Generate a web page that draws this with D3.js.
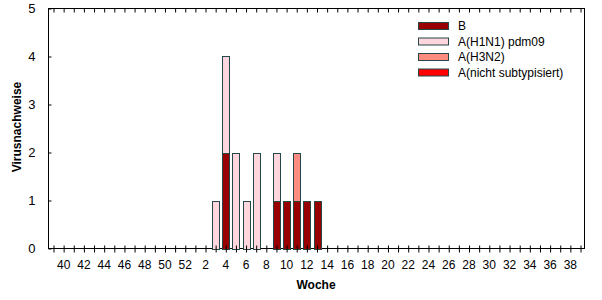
<!DOCTYPE html>
<html lang="de">
<head>
  <meta charset="UTF-8">
  <title>Virusnachweise</title>
  <script src="https://d3js.org/d3.v7.min.js"></script>
  <style>
    body { margin: 0; background: #fff; }
    text { font-family: "Liberation Sans", Arial, sans-serif; fill: #000; }
  </style>
</head>
<body>
<div class="main"></div>
<script>
  let width = 602;
  let height = 300;

  // Kalenderwochen der Saison (KW 39 bis KW 39)
  let weeks = [39, 40, 41, 42, 43, 44, 45, 46, 47, 48, 49, 50, 51, 52,
    1, 2, 3, 4, 5, 6, 7, 8, 9, 10, 11, 12, 13, 14, 15, 16, 17, 18, 19, 20,
    21, 22, 23, 24, 25, 26, 27, 28, 29, 30, 31, 32, 33, 34, 35, 36, 37, 38, 39];
  let weekLabels = [40, 42, 44, 46, 48, 50, 52, 2, 4, 6, 8, 10, 12, 14, 16, 18, 20,
    22, 24, 26, 28, 30, 32, 34, 36, 38];

  // Wochen mit Nachweisen
  let dataWeeks = [3, 4, 5, 6, 7, 8, 9, 10, 11, 12, 13];
  let valuesB     = [0, 2, 0, 0, 0, 0, 1, 1, 1, 1, 1];
  let valuesH1N1  = [1, 2, 2, 1, 2, 0, 1, 0, 0, 0, 0];
  let valuesH3N2  = [0, 0, 0, 0, 0, 0, 0, 0, 1, 0, 0];
  let valuesNicht = [0, 0, 0, 0, 0, 0, 0, 0, 0, 0, 0];

  let seriesNames = ["B", "A(H1N1) pdm09", "A(H3N2)", "A(nicht subtypisiert)"];
  let seriesColors = ["#990000", "#ffd6dd", "#ff8a80", "#ff0000"];
  let yTicks = [0, 1, 2, 3, 4, 5];

  let plotLeft = 48.5, plotRight = 584.5, plotTop = 8.5, plotBottom = 248.5;

  let svg = d3.select(".main")
    .append("svg")
    .attr("width", width)
    .attr("height", height);

  // second season weeks come after index 13
  let weekIdx = weeks.map((w, i) => i);
  let keyOf = w => weeks.indexOf(w, w >= 39 ? 0 : 14);

  let x = d3.scalePoint()
    .domain(weekIdx)
    .range([53.5, 580.5]);

  let y = d3.scaleLinear()
    .domain([0, 5])
    .range([plotBottom, plotTop]);

  let barW = 7;

  let table = dataWeeks.map((w, i) => ({
    week: w,
    "B": valuesB[i],
    "A(H1N1) pdm09": valuesH1N1[i],
    "A(H3N2)": valuesH3N2[i],
    "A(nicht subtypisiert)": valuesNicht[i]
  }));

  let stacked = d3.stack().keys(seriesNames)(table);

  // frame
  svg.append("rect")
    .attr("x", plotLeft).attr("y", plotTop)
    .attr("width", plotRight - plotLeft).attr("height", plotBottom - plotTop)
    .attr("fill", "none").attr("stroke", "#000").attr("stroke-width", 1);

  // bars
  let barG = svg.append("g");
  stacked.forEach((layer, li) => {
    barG.append("g")
      .selectAll("rect")
      .data(layer.filter(d => d[1] > d[0]))
      .join("rect")
      .attr("x", d => Math.round(x(keyOf(d.data.week)) - barW / 2) + 0.5)
      .attr("y", d => Math.round(y(d[1])) + 0.5)
      .attr("width", barW)
      .attr("height", d => Math.round(y(d[0])) - Math.round(y(d[1])))
      .attr("fill", seriesColors[li])
      .attr("stroke", "#244848")
      .attr("stroke-width", 1);
  });

  // bottom axis
  let xAxis = d3.axisBottom(x)
    .tickSizeInner(4)
    .tickSizeOuter(0)
    .tickFormat("");
  let gx = svg.append("g")
    .attr("transform", `translate(0,${plotBottom})`)
    .call(xAxis);
  gx.select(".domain").remove();
  gx.selectAll(".tick line").attr("y1", -3).attr("stroke", "#000");

  // top ticks
  let gxTop = svg.append("g")
    .attr("transform", `translate(0,${plotTop})`)
    .call(d3.axisBottom(x).tickSizeInner(4).tickSizeOuter(0).tickFormat(""));
  gxTop.select(".domain").remove();
  gxTop.selectAll(".tick line").attr("stroke", "#000");

  // x labels
  svg.append("g")
    .selectAll("text")
    .data(weekLabels)
    .join("text")
    .attr("x", d => x(keyOf(d)))
    .attr("y", 269)
    .attr("text-anchor", "middle")
    .style("font-size", "12px")
    .text(d => d);

  // y axis
  let gy = svg.append("g")
    .attr("transform", `translate(${plotLeft},0)`)
    .call(d3.axisLeft(y).tickValues(yTicks).tickFormat(d3.format("d"))
      .tickSizeInner(3).tickSizeOuter(0).tickPadding(10));
  gy.select(".domain").remove();
  gy.selectAll(".tick line").attr("x2", 3).attr("stroke", "#000");
  gy.selectAll(".tick text").style("font-size", "13px").style("font-family", "Liberation Sans, Arial, sans-serif");

  // axis titles
  svg.append("text")
    .attr("x", 316)
    .attr("y", 289)
    .attr("text-anchor", "middle")
    .style("font-size", "12px")
    .style("font-weight", "bold")
    .text("Woche");

  svg.append("text")
    .attr("transform", "translate(21,127) rotate(-90)")
    .attr("text-anchor", "middle")
    .style("font-size", "12px")
    .style("font-weight", "bold")
    .text("Virusnachweise");

  // legend
  let legend = svg.append("g");
  legend.selectAll("rect")
    .data(seriesNames)
    .join("rect")
    .attr("x", 418.5)
    .attr("y", (d, i) => 22.5 + i * 15.5)
    .attr("width", 30)
    .attr("height", 7)
    .attr("fill", (d, i) => seriesColors[i])
    .attr("stroke", "#244848");
  legend.selectAll("text")
    .data(seriesNames)
    .join("text")
    .attr("x", 458)
    .attr("y", (d, i) => 30 + i * 15.5)
    .style("font-size", "12px")
    .text(d => d);
</script>
</body>
</html>
